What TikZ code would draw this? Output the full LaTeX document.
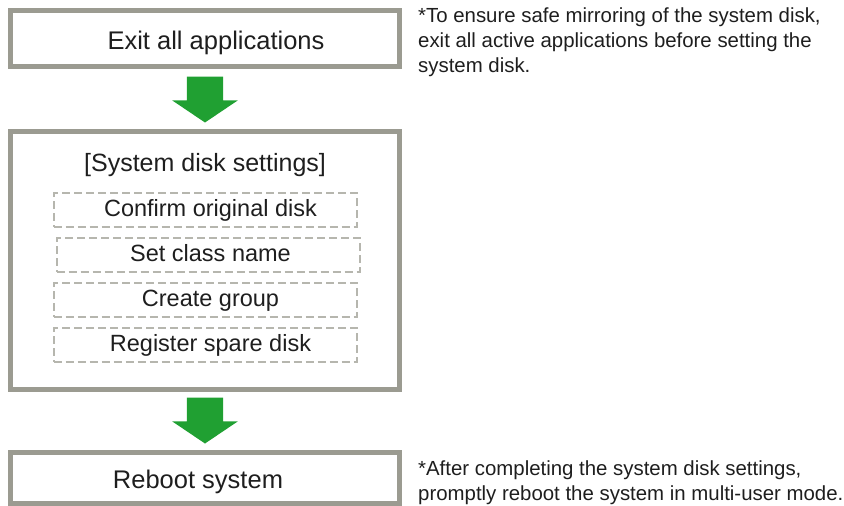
\documentclass[tikz,border=0pt]{standalone}
\usepackage{fontspec}
\setmainfont{Liberation Sans}
\usepackage{tikz}
\usetikzlibrary{positioning, shapes.arrows}

\definecolor{framegray}{RGB}{155,155,145}
\definecolor{dashgray}{RGB}{182,182,174}
\definecolor{flowgreen}{RGB}{32,160,50}
\definecolor{inkgray}{RGB}{30,30,30}

\begin{document}
\begin{tikzpicture}[
        x=1pt, y=-1pt,
        every node/.style={text=inkgray},
        stepbox/.style={rectangle, draw=framegray, line width=5pt, minimum width=389pt, inner sep=0pt, font=\fontsize{25.5}{30}\selectfont, text height=22pt, text depth=0pt},
        substep/.style={rectangle, draw=dashgray, line width=2pt, dash pattern=on 8pt off 4pt, minimum width=303pt, minimum height=34pt, inner sep=0pt, font=\fontsize{23.5}{28}\selectfont, text height=17pt, text depth=5pt},
        nudge/.style={execute at begin node={\hspace*{#1}}},
        heading/.style={inner sep=0pt, font=\fontsize{25}{30}\selectfont},
        note/.style={align=left, inner sep=0pt, font=\fontsize{20.4}{25}\selectfont},
        flow/.style={single arrow, fill=flowgreen, rotate=-90, anchor=west, outer sep=0pt, minimum width=0pt, minimum height=46pt, inner xsep=0pt, inner ysep=18pt, text height=0pt, text depth=0pt, single arrow head extend=14.5pt, single arrow tip angle=112, single arrow head indent=0pt}
    ]
        \useasboundingbox (0,0) rectangle (844,506);

        \node[stepbox, nudge=22pt, minimum height=56pt] (exitall) at (205,38) {Exit all applications};
        \node[stepbox, minimum height=258pt, below=60pt of exitall] (sysdisk) {};
        \node[heading, below=25pt of sysdisk.north] (systitle) {[System disk settings]};
        \node[substep, nudge=11pt, below=15pt of systitle] (confirm) {Confirm original disk};
        \node[substep, nudge=5pt, below=9pt of confirm, xshift=3pt] (classname) {Set class name};
        \node[substep, nudge=11pt, below=9pt of classname, xshift=-3pt] (group) {Create group};
        \node[substep, nudge=11pt, below=9pt of group] (spare) {Register spare disk};
        \node[stepbox, nudge=-14pt, minimum height=51pt, below=58pt of sysdisk] (reboot) {Reboot system};

        \node[below=8pt of exitall, flow] (flowa) {};
        \node[below=6pt of sysdisk, flow] (flowb) {};

        \node[note, right=16pt of exitall.north east, anchor=north west] (notea) {*To ensure safe mirroring of the system disk,\\exit all active applications before setting the\\system disk.};
        \node[note, right=16pt of reboot.north east, anchor=north west, yshift=-11pt] (noteb) {*After completing the system disk settings,\\promptly reboot the system in multi-user mode.};
    \end{tikzpicture}
\end{document}
